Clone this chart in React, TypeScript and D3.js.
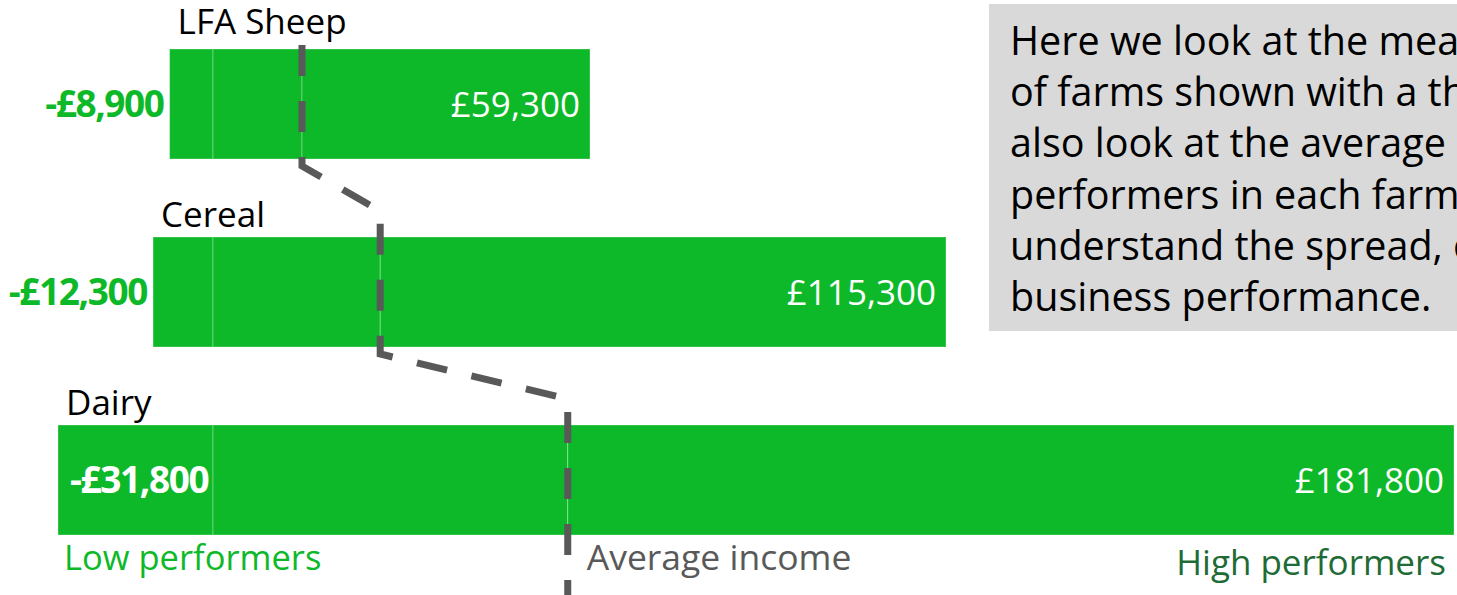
import React from 'react';
import * as d3 from 'd3';

// farm types, top to bottom
const categories = ['LFA Sheep', 'Cereal', 'Dairy'];
// average farm business income of low performers, all farms and high performers (£)
const lowValues = [-8900, -12300, -31800];
const avgValues = [14000, 26300, 55800];
const highValues = [59300, 115300, 181800];

const noteLines = [
  'Here we look at the mean average farm business income',
  'of farms shown with a thick dashed line. We',
  'also look at the average of the low and high',
  'performers in each farm type, to help',
  'understand the spread, or variation, in',
  'business performance.',
];

const W = 1457;
const H = 595;
const GREEN = '#0db928';
const DASH = '#595959';
const FONT = '"Open Sans", "Noto Sans", sans-serif';

const fmt = (v: number) => (v < 0 ? '-£' : '£') + d3.format(',')(Math.abs(v));

export default function App() {
  // the original graphic stretches the positive side a little for dairy
  const x = d3.scaleLinear()
    .domain([-31800, 0, 115300, 181800])
    .range([58, 213, 946, 1454]);

  const y = d3.scaleBand<string>()
    .domain(categories)
    .range([49, 535])
    .paddingInner(0.415)
    .paddingOuter(0);

  const bh = y.bandwidth();

  const rows = categories.map((c, i) => ({
    name: c,
    low: lowValues[i],
    avg: avgValues[i],
    high: highValues[i],
    top: y(c) as number,
  }));

  // dashed path joining the average of each row
  const pts: [number, number][] = [];
  rows.forEach((r, i) => {
    const ax = x(r.avg);
    pts.push([ax, i === 0 ? r.top - 4 : r.top - 26]);
    pts.push([ax, i === rows.length - 1 ? H + 5 : r.top + bh + 7]);
  });
  const avgLine = d3.line()(pts) as string;

  return (
    <svg width={W} height={H} style={{ position: 'absolute', left: 0, top: 0 }} fontFamily={FONT}>
      <rect width={W} height={H} fill="#fff" />

      {/* note box */}
      <rect x={989} y={4} width={W} height={327} fill="#d9d9d9" />
      {noteLines.map((t, i) => (
        <text key={i} x={1010} y={55 + i * 51.2} fontSize={39.5} fill="#000">{t}</text>
      ))}

      {rows.map((r, i) => {
        const segs = [[r.low, 0], [0, r.avg], [r.avg, r.high]];
        const lowInside = x(r.low) < 120;
        return (
          <g key={r.name}>
            {segs.map(([a, b], j) => (
              <rect key={j} x={x(a)} y={r.top} width={x(b) - x(a)} height={bh}
                fill={GREEN} stroke="rgba(255,255,255,0.3)" strokeWidth={1} />
            ))}
            <text x={x(r.low) + 8} y={r.top - (i === 0 ? 15 : 10)} fontSize={35} fill="#000">{r.name}</text>
            <text x={x(r.high) - 10} y={r.top + bh / 2 + 13} fontSize={35} fill="#fff" textAnchor="end">
              {fmt(r.high)}
            </text>
            <text x={lowInside ? x(r.low) + 12 : x(r.low) - 6} y={r.top + bh / 2 + 13}
              fontSize={37} fontWeight={700} letterSpacing={-1.4}
              fill={lowInside ? '#fff' : GREEN} textAnchor={lowInside ? 'start' : 'end'}>
              {fmt(r.low)}
            </text>
          </g>
        );
      })}

      <path d={avgLine} fill="none" stroke={DASH} strokeWidth={7} strokeDasharray="31 25" />

      <text x={64} y={570} fontSize={34.5} fill={GREEN}>Low performers</text>
      <text x={x(avgValues[2]) + 19} y={570} fontSize={35.5} fill={DASH}>Average income</text>
      <text x={1446} y={575} fontSize={35} fill="#1e6b35" textAnchor="end">High performers</text>
    </svg>
  );
}
